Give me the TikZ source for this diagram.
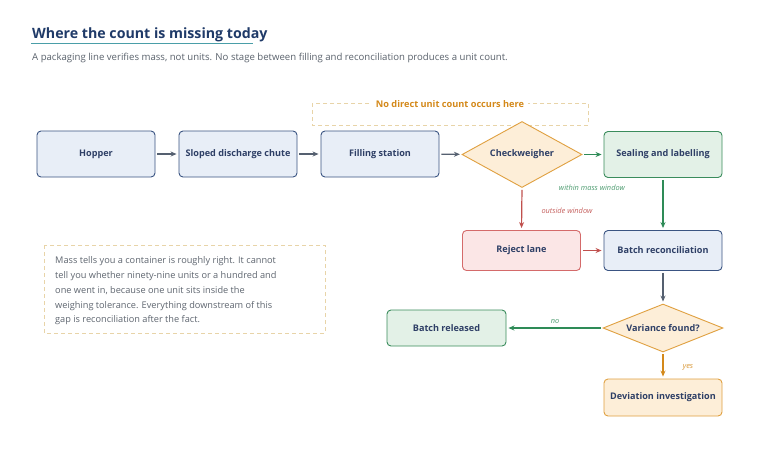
\documentclass[tikz,border=0pt]{standalone}
\usepackage{fontspec}
\setmainfont{Open Sans}
\usetikzlibrary{shapes.geometric,arrows.meta}
\definecolor{titlenavy}{HTML}{1F3A68}
\definecolor{teal}{HTML}{4A9EA8}
\definecolor{subgray}{HTML}{5A626C}
\definecolor{navytext}{HTML}{2E3F66}
\definecolor{bluefill}{HTML}{E8EEF7}
\definecolor{bluedraw}{HTML}{3A5482}
\definecolor{orfill}{HTML}{FDEED8}
\definecolor{ordraw}{HTML}{E0A040}
\definecolor{grfill}{HTML}{E3F1E7}
\definecolor{grdraw}{HTML}{3A8C5C}
\definecolor{rdfill}{HTML}{FBE6E6}
\definecolor{rddraw}{HTML}{D46A6A}
\definecolor{arrgray}{HTML}{556070}
\definecolor{arrgreen}{HTML}{2E8B57}
\definecolor{arrred}{HTML}{C0504D}
\definecolor{arrorange}{HTML}{D4891A}
\definecolor{tan}{HTML}{E8D4A8}
\definecolor{notegray}{HTML}{5F6670}
\begin{document}
\begin{tikzpicture}[x=1pt,y=-1pt,
  box/.style={rectangle, rounded corners=4pt, minimum width=118pt, minimum height=46pt,
    line width=0.9pt, inner sep=2pt, font=\fontsize{9.1}{11}\selectfont\bfseries, text=navytext},
  bluebox/.style={box, fill=bluefill, draw=bluedraw},
  greenbox/.style={box, fill=grfill, draw=grdraw},
  redbox/.style={box, fill=rdfill, draw=rddraw},
  orbox/.style={box, fill=orfill, draw=ordraw},
  decision/.style={diamond, fill=orfill, draw=ordraw, line width=0.9pt, inner sep=0pt,
    font=\fontsize{9.1}{11}\selectfont\bfseries, text=navytext},
  conn/.style={line width=1.2pt, -{Stealth[length=6pt,width=5pt]}, shorten >=2pt, shorten <=2pt},
  lbl/.style={font=\fontsize{7.4}{9}\selectfont\itshape},
  dashbox/.style={draw=tan, line width=0.8pt, dash pattern=on 4pt off 3pt}
]
\path[use as bounding box, fill=white] (0,0) rectangle (768,448);

% title
\node[anchor=base west, inner sep=0pt, text=titlenavy, font=\fontsize{14.2}{17}\selectfont\bfseries] (title) at (32,38) {Where the count is missing today};
\draw[teal, line width=1.2pt] (31,43.5) -- (253,43.5);
\node[anchor=base west, inner sep=0pt, text=subgray, font=\fontsize{9.6}{11}\selectfont] (sub) at (32,60) {A packaging line verifies mass, not units. No stage between filling and reconciliation produces a unit count.};

% dashed gap box
\draw[dashbox] (312,103) rectangle (588,125);
\node[fill=white, inner xsep=4pt, inner ysep=1pt, text=arrorange, font=\fontsize{9.2}{11}\selectfont\bfseries] (gap) at (450,104.5) {No direct unit count occurs here};

% row 1
\node[bluebox] (hop) at (96,154) {Hopper};
\node[bluebox] (chute) at (238,154) {Sloped discharge chute};
\node[bluebox] (fill) at (380,154) {Filling station};
\node[decision, shape aspect=1.8, minimum width=120pt, minimum height=66pt] (check) at (522,154.5) {Checkweigher};
\node[greenbox] (seal) at (663,154.5) {Sealing and labelling};

% row 2
\node[redbox, minimum height=40pt] (reject) at (521.5,250.5) {Reject lane};
\node[bluebox, minimum height=40pt] (recon) at (663,250.5) {Batch reconciliation};

% row 3
\node[decision, shape aspect=2.5, minimum width=120pt, minimum height=48pt] (var) at (663,328) {Variance found?};
\node[greenbox, minimum height=36pt, minimum width=119pt] (rel) at (446.5,328) {Batch released};
\node[orbox, minimum height=37pt] (dev) at (663,397.5) {Deviation investigation};

% connectors
\draw[conn, arrgray] (hop) -- (chute);
\draw[conn, arrgray] (chute) -- (fill);
\draw[conn, arrgray] (fill) -- (check);
\draw[conn, arrgreen] (check) -- (seal);
\draw[conn, arrred] (check.south) -- (reject.north);
\draw[conn, arrgreen] (seal) -- (recon);
\draw[conn, arrred] (reject) -- (recon);
\draw[conn, arrgray] (recon) -- (var);
\draw[conn, arrgreen] (var.west) -- (rel.east);
\draw[conn, arrorange] (var.south) -- (dev.north);

% connector labels
\node[lbl, text=arrgreen!85!white] (lwin) at (592,188) {within mass window};
\node[lbl, text=arrred!90!white] (lout) at (567,211) {outside window};
\node[lbl, text=arrgreen!85!white] (lno) at (555,321) {no};
\node[lbl, text=arrorange!90!white] (lyes) at (688,367) {yes};

% note
\draw[dashbox] (44,245) rectangle (325,333);
\node[anchor=north west, inner sep=0pt, align=left, text=notegray, font=\fontsize{9.2}{14.8}\selectfont] (note) at (55,256.5) {Mass tells you a container is roughly right. It cannot\\tell you whether ninety-nine units or a hundred and\\one went in, because one unit sits inside the\\weighing tolerance. Everything downstream of this\\gap is reconciliation after the fact.};
\end{tikzpicture}
\end{document}
